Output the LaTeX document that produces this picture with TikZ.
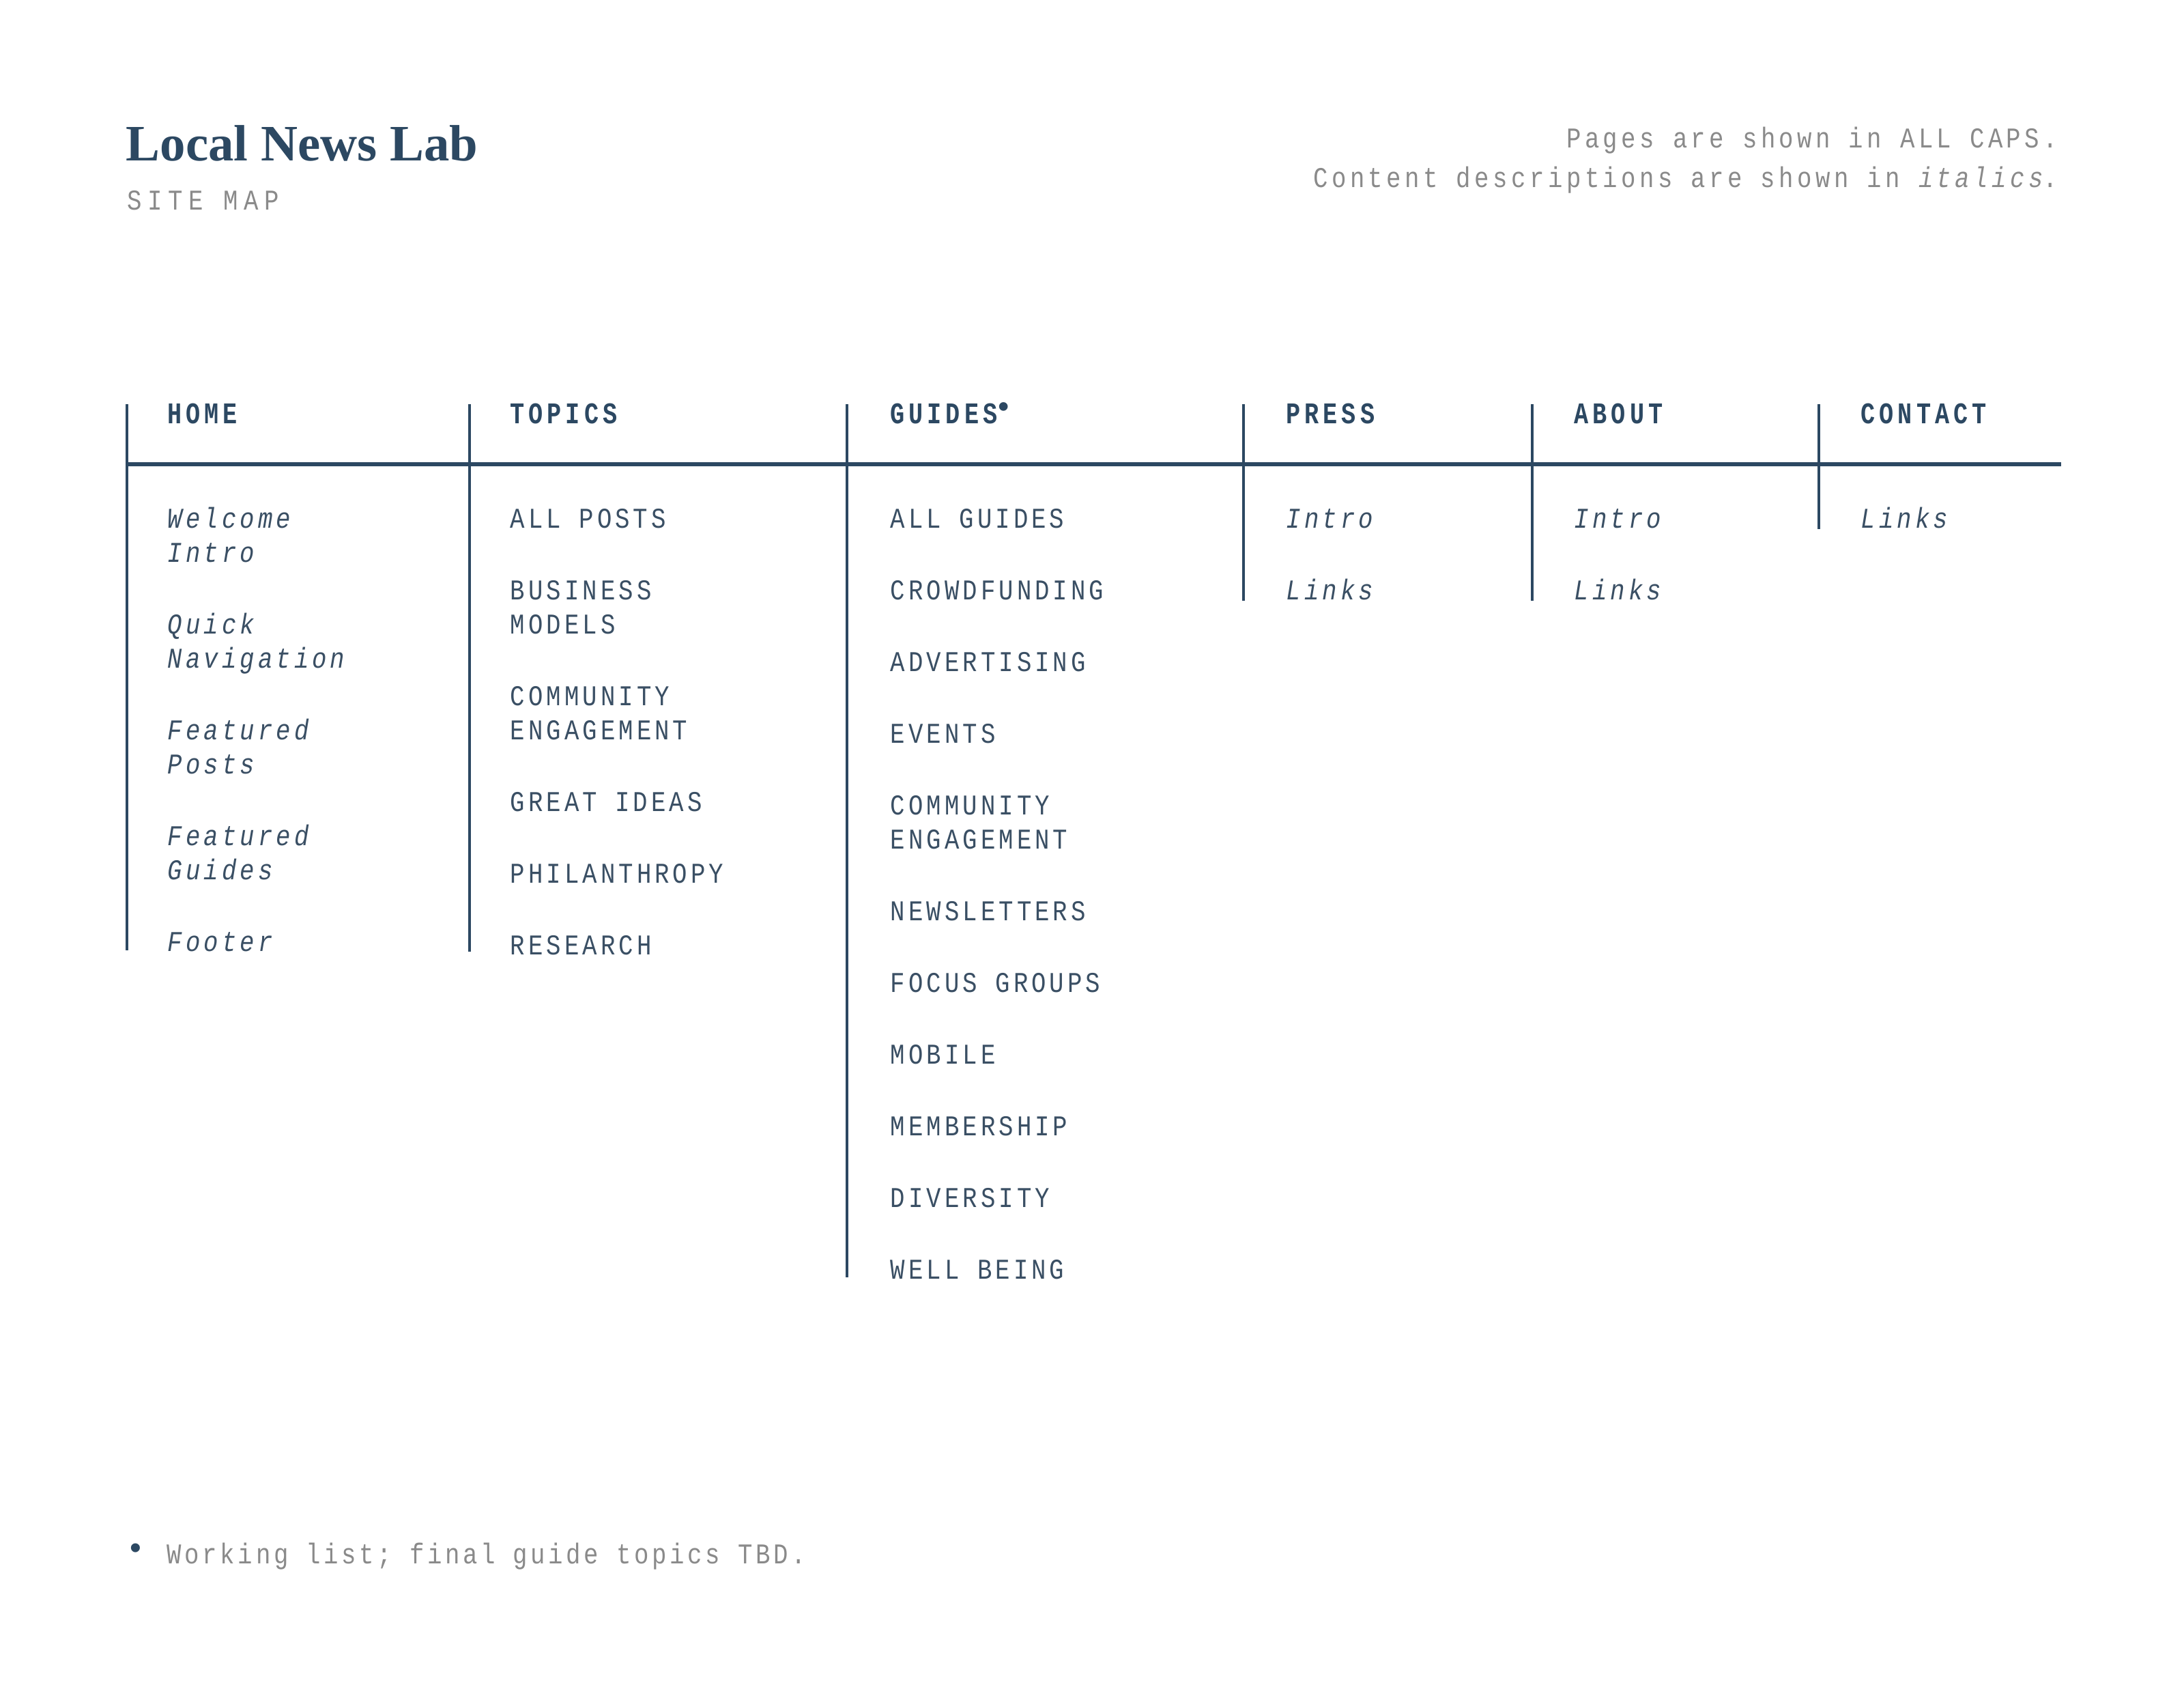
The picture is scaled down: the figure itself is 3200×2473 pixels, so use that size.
\documentclass[tikz,border=0pt]{standalone}
\usepackage{fontspec}
\newfontfamily\monofont{Liberation Mono}[FakeStretch=0.85,LetterSpace=12]
\newfontfamily\legfont{Liberation Mono}[FakeStretch=0.85,LetterSpace=13]
\newfontfamily\footfont{Liberation Mono}[FakeStretch=0.85,LetterSpace=11]
\newfontfamily\sitefont{Liberation Mono}[FakeStretch=0.85,LetterSpace=20]
\newfontfamily\headfont{Liberation Mono}[FakeStretch=0.8,LetterSpace=13.5]
\newfontfamily\dotfont{Liberation Mono}
\newfontfamily\titlefont{Liberation Serif}
\definecolor{navy}{HTML}{2C4862}
\definecolor{itemc}{HTML}{3A4F64}
\definecolor{greyc}{HTML}{8A8A8A}
\newcommand{\twoline}[2]{\vtop{\baselineskip=12.5pt\lineskiplimit=-20pt\hbox{#1}\hbox{#2}}}
\tikzset{
  head/.style={anchor=base west, inner sep=0pt, text=navy, font={\headfont\fontsize{11pt}{13pt}\selectfont\bfseries}},
  item/.style={anchor=base west, inner sep=0pt, text=itemc, font={\monofont\fontsize{10.5pt}{12.5pt}\selectfont}},
  desc/.style={anchor=base west, inner sep=0pt, text=itemc, font={\monofont\fontsize{10.5pt}{12.5pt}\selectfont\itshape}},
  legend/.style={anchor=base east, inner sep=0pt, text=greyc, font={\legfont\fontsize{10.5pt}{12.5pt}\selectfont}},
  vline/.style={draw=navy, line width=1.2pt},
  hline/.style={draw=navy, line width=1.7pt}
}
\begin{document}
\begin{tikzpicture}[x=0.25pt,y=-0.25pt]
\useasboundingbox (0,0) rectangle (3200,2473);
\fill[white] (0,0) rectangle (3200,2473);
% title
\node[anchor=base west, inner sep=0pt, text=navy, font={\titlefont\bfseries\fontsize{18.7pt}{22pt}\selectfont}] (title) at (184,235) {Local News Lab};
\node[anchor=base west, inner sep=0pt, text=greyc, font={\sitefont\fontsize{10.5pt}{12.5pt}\selectfont}] (sitemap) at (186,307) {SITE MAP};
\node[legend] (leg1) at (3016,216) {Pages are shown in ALL CAPS.};
\node[legend] (leg2) at (3016,274) {Content descriptions are shown in \textit{italics}.};
% coordinates for lines
\coordinate (hl) at (186,680);
\coordinate (hr) at (3020,680);
\foreach \n/\x/\b in {1/186/1392, 2/688/1394, 3/1241/1871, 4/1822/880, 5/2245/880, 6/2665/775}{
  \coordinate (v\n t) at (\x,592);
  \coordinate (v\n b) at (\x,\b);
}
\foreach \n in {1,...,6}{ \draw[vline] (v\n t) -- (v\n b); }
\draw[hline] (hl) -- (hr);
% headers
\node[head] (home) at (245,620) {HOME};
\node[head] (topics) at (747,620) {TOPICS};
\node[head] (guides) at (1304,620) {GUIDES\kern-1pt{\raisebox{0.22em}{\dotfont\fontsize{11pt}{11pt}\selectfont •}}};
\node[head] (press) at (1884,620) {PRESS};
\node[head] (about) at (2306,620) {ABOUT};
\node[head] (contact) at (2726,620) {CONTACT};
% home
\node[desc] (h1) at (245,773) {\twoline{Welcome}{Intro}};
\node[desc] (h2) at (245,928) {\twoline{Quick}{Navigation}};
\node[desc] (h3) at (245,1083) {\twoline{Featured}{Posts}};
\node[desc] (h4) at (245,1238) {\twoline{Featured}{Guides}};
\node[desc] (h5) at (245,1393) {Footer};
% topics
\node[item] (t1) at (747,773) {ALL POSTS};
\node[item] (t2) at (747,878) {\twoline{BUSINESS}{MODELS}};
\node[item] (t3) at (747,1033) {\twoline{COMMUNITY}{ENGAGEMENT}};
\node[item] (t4) at (747,1188) {GREAT IDEAS};
\node[item] (t5) at (747,1293) {PHILANTHROPY};
\node[item] (t6) at (747,1398) {RESEARCH};
% guides
\node[item] (g1) at (1304,773) {ALL GUIDES};
\node[item] (g2) at (1304,878) {CROWDFUNDING};
\node[item] (g3) at (1304,983) {ADVERTISING};
\node[item] (g4) at (1304,1088) {EVENTS};
\node[item] (g5) at (1304,1193) {\twoline{COMMUNITY}{ENGAGEMENT}};
\node[item] (g6) at (1304,1348) {NEWSLETTERS};
\node[item] (g7) at (1304,1453) {FOCUS GROUPS};
\node[item] (g8) at (1304,1558) {MOBILE};
\node[item] (g9) at (1304,1663) {MEMBERSHIP};
\node[item] (g10) at (1304,1768) {DIVERSITY};
\node[item] (g11) at (1304,1873) {WELL BEING};
% press, about, contact
\node[desc] (p1) at (1884,773) {Intro};
\node[desc] (p2) at (1884,878) {Links};
\node[desc] (a1) at (2306,773) {Intro};
\node[desc] (a2) at (2306,878) {Links};
\node[desc] (c1) at (2726,773) {Links};
% footnote
\node[inner sep=0pt, text=navy, font={\dotfont\fontsize{12pt}{12pt}\selectfont}] (fnmark) at (199,2272) {•};
\node[anchor=base west, inner sep=0pt, text=greyc, font={\footfont\fontsize{10.5pt}{12.5pt}\selectfont}] (fn) at (244,2290) {Working list; final guide topics TBD.};
\end{tikzpicture}
\end{document}
